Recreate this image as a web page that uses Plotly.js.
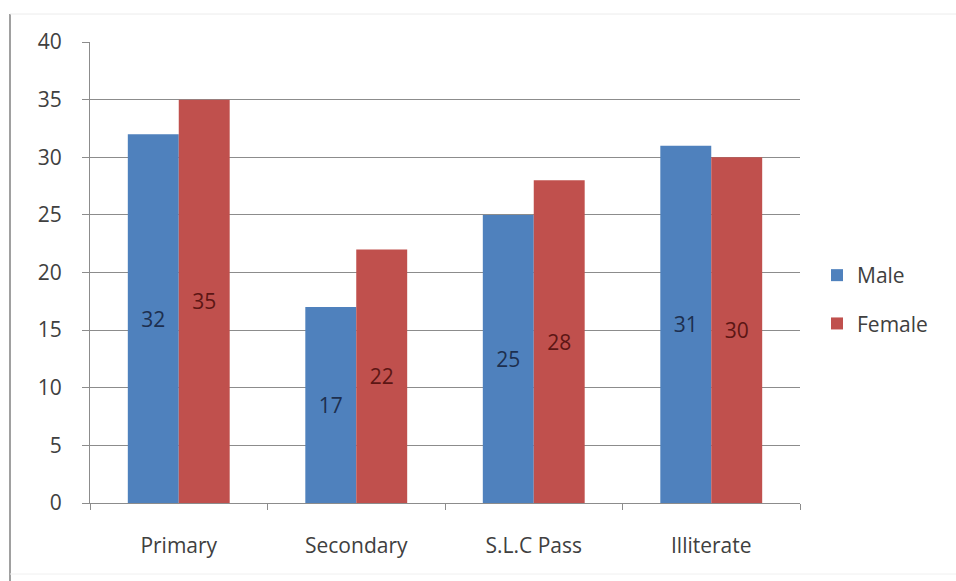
<!DOCTYPE html>
<html>
<head>
<meta charset="utf-8">
<script src="https://cdn.plot.ly/plotly-3.0.1.min.js"></script>
<style>
  html, body { margin: 0; padding: 0; background: #ffffff; }
  #chart { width: 956px; height: 581px; }
</style>
</head>
<body>
<div id="chart"></div>
<script>
// Education level by gender
const categories = ["Primary", "Secondary", "S.L.C Pass", "Illiterate"];
const maleValues = [32, 17, 25, 31];
const femaleValues = [35, 22, 28, 30];
const yTicks = [0, 5, 10, 15, 20, 25, 30, 35, 40];

const W = 956, H = 581;
const margin = { l: 90, r: 156, t: 42, b: 78 };
const plotW = W - margin.l - margin.r;
const plotH = H - margin.t - margin.b;
const px = x => (x - margin.l) / plotW;
const py = y => 1 - (y - margin.t) / plotH;

const FAMILY = "Open Sans, Liberation Sans, sans-serif";
const labelFont = { family: FAMILY, size: 21 };

const traces = [
  {
    type: "bar",
    name: "Male",
    legendgroup: "male",
    x: categories,
    y: maleValues,
    text: maleValues.map(String),
    textposition: "inside",
    insidetextanchor: "middle",
    textangle: 0,
    textfont: Object.assign({ color: "#1d2f4f" }, labelFont),
    marker: { color: "#4F81BD" },
    hoverinfo: "x+y"
  },
  {
    type: "bar",
    name: "Female",
    legendgroup: "female",
    x: categories,
    y: femaleValues,
    text: femaleValues.map(String),
    textposition: "inside",
    insidetextanchor: "middle",
    textangle: 0,
    textfont: Object.assign({ color: "#5c1614" }, labelFont),
    marker: { color: "#C0504D" },
    hoverinfo: "x+y"
  }
];

const layout = {
  width: W,
  height: H,
  margin: margin,
  paper_bgcolor: "#ffffff",
  plot_bgcolor: "#ffffff",
  barmode: "group",
  bargap: 0.426,
  bargroupgap: 0,
  showlegend: true,
  legend: {
    x: px(817), y: py(255), xanchor: "left", yanchor: "top",
    font: { family: FAMILY, size: 21, color: "#404040" },
    itemwidth: 30,
    traceorder: "grouped",
    tracegroupgap: 18,
    bgcolor: "rgba(0,0,0,0)"
  },
  font: { family: FAMILY, color: "#404040" },
  xaxis: {
    type: "category",
    showline: true,
    linecolor: "#8c8c8c",
    linewidth: 1,
    ticks: "outside",
    tickson: "boundaries",
    ticklen: 6,
    tickcolor: "#8c8c8c",
    showgrid: false,
    tickfont: { size: 21, color: "#404040" },
    ticklabelstandoff: 24
  },
  yaxis: {
    range: [0, 40],
    tickvals: yTicks,
    ticktext: yTicks.map(String),
    showline: true,
    linecolor: "#8c8c8c",
    linewidth: 1,
    ticks: "outside",
    ticklen: 7,
    tickcolor: "#8c8c8c",
    showgrid: true,
    gridcolor: "#8c8c8c",
    gridwidth: 1,
    zeroline: false,
    tickfont: { size: 21, color: "#404040" },
    ticklabelstandoff: 16
  },
  shapes: [
    // outer frame of the chart area
    { type: "line", xref: "paper", yref: "paper",
      x0: px(10), x1: px(10), y0: py(14), y1: py(581),
      line: { color: "#a0a0a0", width: 2 } },
    { type: "line", xref: "paper", yref: "paper",
      x0: px(10), x1: px(956), y0: py(14), y1: py(14),
      line: { color: "#ececec", width: 1 } },
    { type: "line", xref: "paper", yref: "paper",
      x0: px(10), x1: px(956), y0: py(574), y1: py(574),
      line: { color: "#f0f0f0", width: 1 } }
  ]
};

Plotly.newPlot("chart", traces, layout, { displayModeBar: false, staticPlot: true });
</script>
</body>
</html>
